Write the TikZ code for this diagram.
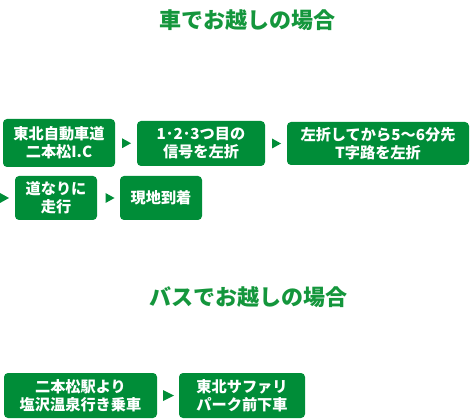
\documentclass[tikz,border=0pt]{standalone}
\usepackage{fontspec}
\usetikzlibrary{calc}
\newfontfamily\cjk{Noto Sans CJK JP}
\definecolor{boxgreen}{RGB}{0,141,56}
\definecolor{titlegreen}{RGB}{20,150,60}
\begin{document}
\begin{tikzpicture}[x=1pt,y=-1pt,
  stepbox/.style={fill=boxgreen,rounded corners=4pt,text=white,align=center,
    font=\cjk\bfseries\fontsize{15.2}{18}\selectfont,inner sep=0pt},
  titletext/.style={text=titlegreen,font=\cjk\bfseries\fontsize{22}{26}\selectfont},
  tri/.style={fill=boxgreen}]
\useasboundingbox (0,0) rectangle (470,419);
\node[titletext] (t1) at (247,20) {車でお越しの場合};
\node[stepbox,minimum width=112pt,minimum height=48pt] (b1) at (59,143) {東北自動車道\\二本松I.C};
\node[stepbox,minimum width=128pt,minimum height=45pt] (b2) at (201,143.5) {1･2･3つ目の\\信号を左折};
\node[stepbox,minimum width=182pt,minimum height=43pt] (b3) at (378,143.5) {左折してから5～6分先\\T字路を左折};
\node[stepbox,minimum width=82pt,minimum height=44pt] (b4) at (56,198) {道なりに\\走行};
\node[stepbox,minimum width=82pt,minimum height=44pt] (b5) at (161,198) {現地到着};
\node[titletext] (t2) at (248,297) {バスでお越しの場合};
\node[stepbox,minimum width=153pt,minimum height=45pt] (b6) at (80.5,395.5) {二本松駅より\\塩沢温泉行き乗車};
\node[stepbox,minimum width=126pt,minimum height=45pt] (b7) at (242,395.5) {東北サファリ\\パーク前下車};
\coordinate (a3) at (4,198);
\fill[tri] ($(b1.east)!0.5!(b2.west)$) ++(-4,-5) -- ++(9,5) -- ++(-9,5) -- cycle;
\fill[tri] ($(b2.east)!0.5!(b3.west)$) ++(-4,-5) -- ++(9,5) -- ++(-9,5) -- cycle;
\fill[tri] (a3) ++(-4,-5) -- ++(9,5) -- ++(-9,5) -- cycle;
\fill[tri] ($(b4.east)!0.5!(b5.west)$) ++(-3,-5) -- ++(9,5) -- ++(-9,5) -- cycle;
\fill[tri] ($(b6.east)!0.5!(b7.west)$) ++(-5,-5.5) -- ++(11,5.5) -- ++(-11,5.5) -- cycle;
\end{tikzpicture}
\end{document}
